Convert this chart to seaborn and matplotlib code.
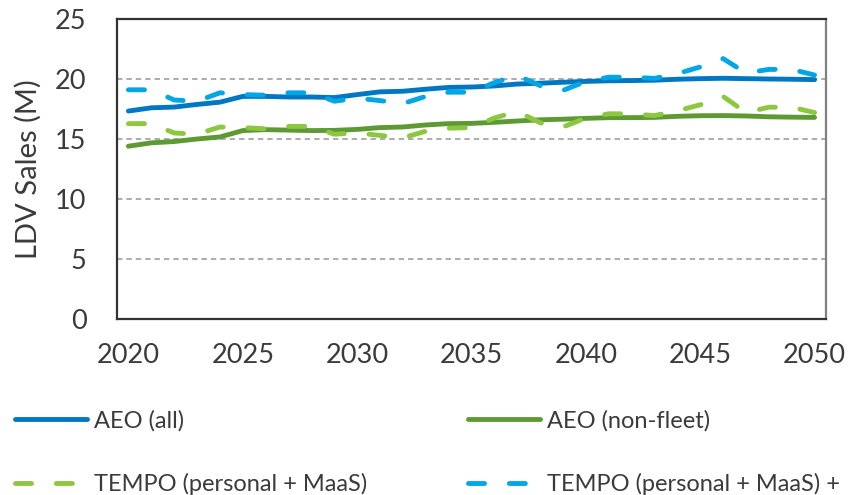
import matplotlib
matplotlib.use("Agg")
import matplotlib.pyplot as plt
import seaborn as sns
import numpy as np
import pandas as pd

years = list(range(2020, 2051))
aeo_all = [17.33, 17.6, 17.66, 17.88, 18.07, 18.55, 18.55, 18.5, 18.5, 18.45,
           18.7, 18.93, 18.98, 19.15, 19.3, 19.33, 19.42, 19.58, 19.65, 19.73,
           19.8, 19.85, 19.87, 19.9, 19.98, 20.03, 20.06, 20.03, 20.0, 19.98, 19.95]
aeo_nonfleet = [14.4, 14.68, 14.79, 15.0, 15.17, 15.7, 15.78, 15.74, 15.7, 15.72,
                15.8, 15.95, 16.0, 16.17, 16.28, 16.3, 16.39, 16.5, 16.6, 16.65,
                16.72, 16.78, 16.78, 16.8, 16.89, 16.94, 16.95, 16.92, 16.85, 16.82, 16.8]
tempo_personal = [16.28, 16.28, 15.5, 15.4, 16.0, 15.95, 15.85, 16.05, 16.05, 15.4,
                  15.5, 15.3, 15.1, 15.65, 15.9, 15.95, 16.75, 17.3, 16.35, 16.0,
                  16.75, 17.1, 17.1, 16.95, 17.35, 17.85, 18.55, 17.2, 17.65, 17.65, 17.2]
tempo_fleet = [19.1, 19.1, 18.25, 18.15, 18.85, 18.7, 18.65, 18.85, 18.85, 18.15,
               18.4, 18.2, 17.95, 18.55, 18.9, 18.9, 19.7, 20.3, 19.45, 19.05,
               19.8, 20.15, 20.15, 20.05, 20.45, 21.0, 21.7, 20.5, 20.8, 20.8, 20.33]

labels = ["AEO (all)", "AEO (non-fleet)", "TEMPO (personal + MaaS)",
          "TEMPO (personal + MaaS) +"]
colors = ["#0077C2", "#5E9A33", "#8DC63F", "#00A6E6"]
yticks = [0, 5, 10, 15, 20, 25]
xticks = [2020, 2025, 2030, 2035, 2040, 2045, 2050]

sns.set_theme(style="white")
plt.rcParams["font.family"] = ["Lato", "DejaVu Sans"]

fig = plt.figure(figsize=(8.5, 4.95), dpi=100)
ax = fig.add_axes([117 / 850, 1 - 319 / 495, 709 / 850, 300 / 495])

lw = 3.5
dash = (0, (3.3, 5.1))
series = [aeo_all, aeo_nonfleet, tempo_personal, tempo_fleet]
styles = ["-", "-", dash, dash]
zorders = [3, 3, 4, 4]
for vals, lab, col, ls, z in zip(series, labels, colors, styles, zorders):
    sns.lineplot(x=years, y=vals, ax=ax, color=col, linewidth=lw, linestyle=ls,
                 label=lab, dash_capstyle="round", solid_capstyle="round",
                 zorder=z, legend=False)

ax.set_xlim(2019.5, 2050.5)
ax.set_ylim(0, 25)
ax.set_xticks(xticks)
ax.set_yticks(yticks)
ax.set_xticklabels([str(t) for t in xticks])
ax.set_yticklabels([str(t) for t in yticks])
ax.tick_params(axis="both", length=0, labelsize=19.5, colors="#3b3b3b")
ax.tick_params(axis="x", pad=17)
ax.tick_params(axis="y", pad=22)

for y in [5, 10, 15, 20]:
    ax.axhline(y, color="#a6a6a6", lw=1.3, ls=(0, (3, 2.2)), zorder=1)

for s in ["left", "bottom", "top"]:
    ax.spines[s].set_color("#333333")
    ax.spines[s].set_linewidth(1.6)
ax.spines["right"].set_color("#808080")
ax.spines["right"].set_linewidth(1.6)

ax.set_xlabel("")
ax.set_ylabel("LDV Sales (M)", fontsize=21, color="#3b3b3b")
ax.yaxis.set_label_coords(-0.106, 0.5)

handles, labs = ax.get_legend_handles_labels()
hmap = dict(zip(labs, handles))
common = dict(frameon=False, fontsize=17, handlelength=3.05, handletextpad=0.3,
              labelspacing=1.75, borderpad=0, borderaxespad=0,
              labelcolor="#3b3b3b", loc="upper left")
fig.legend([hmap[labels[0]], hmap[labels[2]]], [labels[0], labels[2]],
           bbox_to_anchor=(15 / 850, 1 - 410 / 495), **common)
fig.legend([hmap[labels[1]], hmap[labels[3]]], [labels[1], labels[3]],
           bbox_to_anchor=(468 / 850, 1 - 410 / 495), **common)

fig.savefig("out.png", dpi=100)
